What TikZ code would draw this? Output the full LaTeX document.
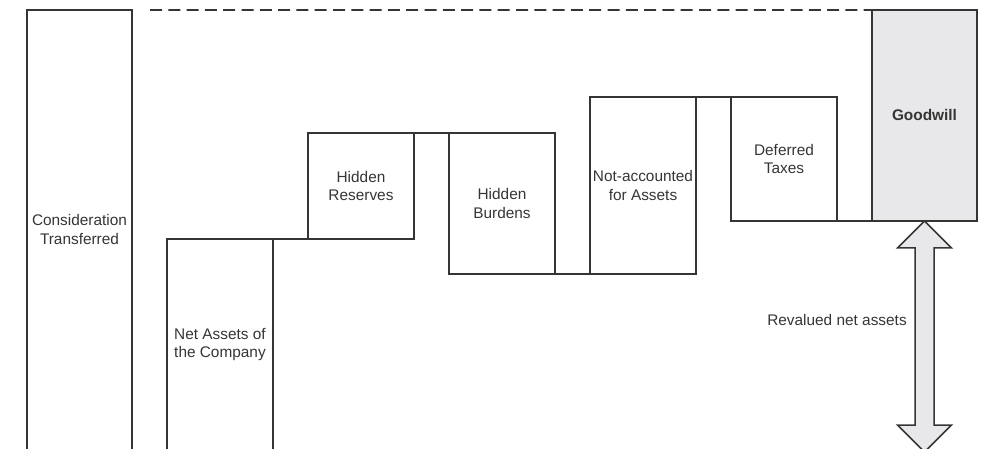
\documentclass[tikz,border=0pt]{standalone}
\usepackage{fontspec}
\setmainfont{Liberation Sans}
\begin{document}
\definecolor{ink}{HTML}{353535}
\definecolor{shade}{HTML}{E8E8EA}
\begin{tikzpicture}[x=1bp,y=-1bp,
  every node/.style={font=\fontsize{15.45}{19}\selectfont, text=ink, align=center, inner sep=0pt, outer sep=0pt},
  openbox/.style={draw=none},
  block/.style={draw=ink, line width=1.7bp},
  joinline/.style={draw=ink, line width=1.7bp, line cap=rect},
  dashline/.style={draw=ink, line width=1.6bp, dash pattern=on 12bp off 6.3bp},
  bigarrow/.style={draw=ink, fill=shade, line width=1.5bp, line join=miter}]
\useasboundingbox (0,0) rectangle (985,449);
\clip (0,0) rectangle (985,449);

% columns that run past the lower edge (drawn open at the bottom)
\node[openbox, minimum width=105bp, minimum height=439bp] (cons) at (79.5,229.5) {Consideration\\Transferred};
\node[openbox, minimum width=106bp, minimum height=211bp] (net) at (220,344.5) {Net Assets of\\the Company};
\draw[joinline] (cons.south west) |- (cons.north east) -- (cons.south east);
\draw[joinline] (net.south west) |- (net.north east) -- (net.south east);

% adjustment steps
\node[block, minimum width=106bp, minimum height=106bp] (hr) at (361,186) {Hidden\\Reserves};
\node[block, minimum width=106bp, minimum height=141bp] (hb) at (502,203.5) {Hidden\\Burdens};
\node[block, minimum width=106bp, minimum height=177bp] (na) at (643,185.5) {Not-accounted\\for Assets};
\node[block, minimum width=106bp, minimum height=124bp] (dt) at (784,159) {Deferred\\Taxes};
\node[block, fill=shade, minimum width=105bp, minimum height=211bp, font=\fontsize{15.45}{19}\selectfont\bfseries] (gw) at (924.5,115.5) {Goodwill};

% joins between the steps
\draw[joinline] (net.north east) -- (hr.south west);
\draw[joinline] (hr.north east) -- (hb.north west);
\draw[joinline] (hb.south east) -- (na.south west);
\draw[joinline] (na.north east) -- (dt.north west);
\draw[joinline] (dt.south east) -- (gw.south west);

% level of the consideration
\draw[dashline] ([xshift=18bp]cons.north east) -- (gw.north west);

% span of the revalued net assets
\coordinate (atop) at (gw.south);
\draw[bigarrow] (atop) -- ++(27,27) -- ++(-17.5,0) -- ++(0,177) -- ++(17.5,0)
  -- ++(-27,27) -- ++(-27,-27) -- ++(17.5,0) -- ++(0,-177) -- ++(-17.5,0) -- cycle;
\node (rv) at (837,320) {Revalued net assets};
\end{tikzpicture}
\end{document}
